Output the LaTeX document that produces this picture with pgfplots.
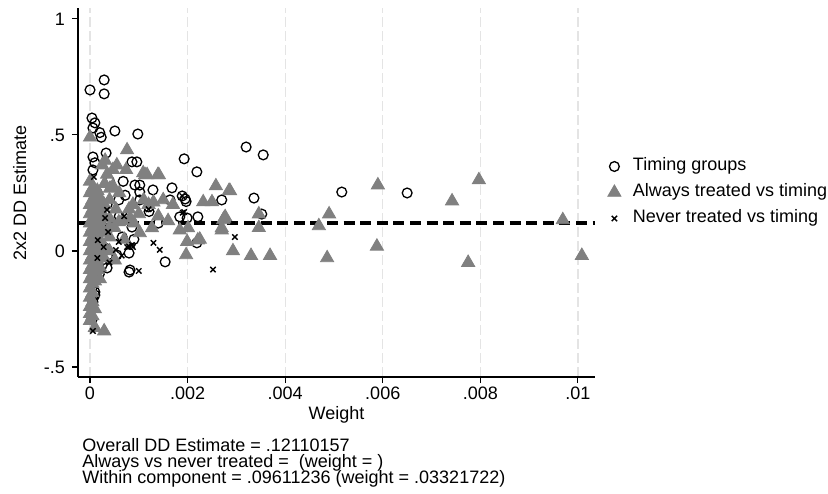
\documentclass[border=0pt]{standalone}
\usepackage{fontspec}
\setmainfont{Liberation Sans}
\usepackage{pgfplots}
\pgfplotsset{compat=1.18}
\usetikzlibrary{calc}
\definecolor{stGray}{RGB}{128,128,128}
\definecolor{gridGray}{RGB}{228,228,228}

\pgfplotsset{
  mk/.style={only marks,
    legend image code/.code={\draw[mark repeat=2,mark phase=2,##1] plot coordinates {(0pt,0pt) (5pt,0pt) (10pt,0pt)};}}
}

\begin{document}
\begin{tikzpicture}
\begin{axis}[
  name=ax, at={(0,0)}, anchor=south west,
  width=258.5pt, height=184.5pt, scale only axis,
  xmin=-0.000246, xmax=0.01035,
  ymin=-0.543, ymax=1.047,
  axis lines*=left,
  axis line style={black, line width=0.55pt},
  xtick={0,0.002,0.004,0.006,0.008,0.01},
  xticklabels={0,.002,.004,.006,.008,.01},
  ytick={-0.5,0,0.5,1},
  yticklabels={-.5,0,.5,1},
  scaled x ticks=false,
  tick align=outside,
  major tick length=3pt,
  tick style={black, line width=0.55pt},
  xmajorgrids,
  major grid style={gridGray, dash pattern=on 5pt off 2pt, line width=0.6pt},
  tick label style={font=\fontsize{9}{10}\selectfont},
  xticklabel style={yshift=1.5pt},
  label style={font=\fontsize{9}{10}\selectfont},
  xlabel={Weight},
  xlabel style={yshift=3.5pt},
  ylabel={2x2 DD Estimate},
  ylabel style={yshift=2pt},
  clip=false,
  legend style={at={(1.024,0.60)}, anchor=north west, draw=none, fill=none,
    font=\fontsize{9}{10}\selectfont, row sep=2.5pt, column sep=5pt, inner sep=0pt,
    nodes={inner sep=1pt, text height=6.5pt, text depth=2pt},
    cells={anchor=west}},
]

% overall estimate
\addplot[forget plot, black, line width=1.7pt, dash pattern=on 5.5pt off 2.8pt]
  coordinates {(-0.000246,0.1211) (0.01035,0.1211)};

% timing groups
\addplot[mk, mark=o, mark size=2.45pt, black, mark options={line width=0.65pt}] coordinates {
(0,0.694) (0.00029,0.737) (0.00029,0.677) (0.00004,0.573) (0.0001,0.552)
(0.00006,0.53) (0.0002,0.51) (0.00023,0.49) (0.00051,0.517) (0.00098,0.504)
(0.00006,0.405) (0.0001,0.38) (0.00033,0.422) (0.00086,0.384) (0.00096,0.384)
(0.00193,0.397) (0.00219,0.341) (0.00006,0.349) (0.00068,0.30) (0.00092,0.284)
(0.00102,0.284) (0.00168,0.272) (0.00129,0.263) (0.00164,0.22) (0.00189,0.237)
(0.00195,0.224) (0.00197,0.213) (0.0027,0.22) (0.00102,0.22) (0.0032,0.448)
(0.00355,0.414) (0.00336,0.228) (0.00352,0.159) (0.00516,0.254) (0.0065,0.25)
(0.00184,0.147) (0.00199,0.142) (0.00221,0.147) (0.00219,0.035) (0.00154,-0.047)
(0.00082,-0.082) (0.00066,0.06) (0.00086,0.103) (0.00055,-0.017) (0.0008,-0.009)
(0.00031,0.013) (0.00037,-0.017) (0.00025,-0.06) (0.00035,-0.073) (0.0008,-0.091)
(0.00004,-0.159) (0.0001,-0.177) (0.00006,-0.207) (0.00016,-0.082) (0.00019,-0.1)
(0.00006,-0.22) (0.0001,-0.19) (0.00004,-0.297) (0.00059,0.22) (0.00102,0.254)
(0.00035,0.2) (0.0004,0.3) (0.00015,0.25) (0.0012,0.19) (0.0006,0.15)
(0.0014,0.12) (0.00121,0.17) (0.00072,0.24) (0.0004,0.1) (0.0009,0.05)
};
\addlegendentry{Timing groups}

% always treated vs timing
\addplot[mk, mark=triangle*, mark size=3.8pt, stGray, mark options={draw=stGray, fill=stGray}] coordinates {
(0,0.49) (0,0.30) (0,0.25) (0,0.20) (0,0.16) (0,0.12) (0,0.08) (0,0.04)
(0,0.0) (0,-0.04) (0,-0.08) (0,-0.12) (0,-0.16) (0,-0.20) (0,-0.24) (0,-0.27) (0,-0.30)
(0.00005,0.27) (0.00005,0.22) (0.00005,0.18) (0.00005,0.14) (0.00005,0.10)
(0.00005,0.06) (0.00005,0.02) (0.00005,-0.02) (0.00005,-0.06) (0.00005,-0.10) (0.00005,-0.14)
(0.00005,-0.18) (0.00005,-0.22) (0.00005,-0.28)
(0.0001,0.24) (0.0001,0.19) (0.0001,0.15) (0.0001,0.11) (0.0001,0.07)
(0.0001,0.03) (0.0001,-0.01) (0.0001,-0.05) (0.0001,-0.09) (0.0001,-0.13) (0.0001,-0.25) (0.0001,-0.33)
(0.00015,0.26) (0.00015,0.21) (0.00015,0.16) (0.00015,0.12) (0.00015,0.08) (0.00015,0.04)
(0.00015,0.0) (0.00015,-0.04) (0.00015,-0.08)
(0.0002,0.23) (0.0002,0.18) (0.0002,0.13) (0.0002,0.09) (0.0002,0.05) (0.0002,0.01)
(0.0002,-0.03) (0.0002,-0.07) (0.0002,-0.12)
(0.00029,-0.345) (0.00029,0.2) (0.00029,0.15) (0.00029,0.08) (0.00029,0.02) (0.00029,-0.03)
(0.0004,0.22) (0.0004,0.14) (0.0004,0.06) (0.0004,0.1)
(0.00076,0.435) (0.00031,0.39) (0.00055,0.37) (0.00113,0.328) (0.00141,0.328)
(0.00109,0.336) (0.00139,0.328) (0.00117,0.328) (0.00074,0.35) (0.00258,0.28)
(0.00232,0.211) (0.0025,0.211) (0.00277,0.147) (0.00127,0.099) (0.00184,0.09)
(0.00201,0.099) (0.00199,0.04) (0.00221,0.047) (0.00225,0.05) (0.00197,-0.017)
(0.00273,0.134) (0.0027,0.099) (0.00287,0.259) (0.00047,0.28) (0.0003,0.29)
(0.00088,0.2) (0.0006,0.25) (0.0008,0.18) (0.0012,0.2) (0.0014,0.15)
(0.0016,0.13) (0.0009,0.12) (0.00066,0.13) (0.0005,0.1) (0.0007,0.05)
(0.0004,0.0) (0.001,0.16) (0.00082,0.142) (0.00059,0.125) (0.00102,0.078)
(0.0013,0.21) (0.0015,0.22) (0.0017,0.2) (0.0011,0.22) (0.00053,0.18)
(0.00041,0.27) (0.00035,0.33) (0.00047,0.35) (0.00025,0.37) (0.00051,-0.04) (0.00025,-0.02)
(0.00285,0.26) (0.00275,0.14) (0.0027,0.09) (0.00346,0.159) (0.00346,0.10)
(0.00293,0.0) (0.0033,-0.02) (0.00369,-0.02) (0.0049,0.159) (0.00469,0.108)
(0.00486,-0.03) (0.0059,0.284) (0.00588,0.02) (0.00797,0.306) (0.00742,0.215)
(0.00969,0.134) (0.00775,-0.05) (0.01008,-0.02)
};
\addlegendentry{Always treated vs timing}

% never treated vs timing
\addplot[mk, mark=x, mark size=1.9pt, black, mark options={line width=0.7pt}] coordinates {
(0.00006,-0.345) (0.00016,0.047) (0.00037,0.082) (0.00059,0.039) (0.00053,0.004)
(0.00028,0.017) (0.00076,0.017) (0.00086,0.026) (0.00035,0.177) (0.00031,0.142)
(0.001,-0.086) (0.0013,0.035) (0.00143,0.005) (0.0019,0.165) (0.00297,0.06)
(0.00252,-0.08) (0.00189,0.237) (0.00193,0.168) (0.00008,0.319) (0.0008,0.02)
(0.00088,0.017) (0.0012,0.18) (0.0004,-0.05) (0.00015,-0.03) (0.0007,0.15)
(0.00065,-0.02)
};
\addlegendentry{Never treated vs timing}

\end{axis}

\begin{scope}[font=\fontsize{9}{10}\selectfont]
\node[anchor=base west, inner sep=0pt] at ($(ax.south west)+(2pt,-37.2pt)$) {Overall DD Estimate = .12110157};
\node[anchor=base west, inner sep=0pt] at ($(ax.south west)+(2pt,-45.2pt)$) {Always vs never treated =\ \ (weight = )};
\node[anchor=base west, inner sep=0pt] at ($(ax.south west)+(2pt,-53.2pt)$) {Within component = .09611236 (weight = .03321722)};
\end{scope}

\pgfresetboundingbox
\path[use as bounding box] ($(ax.south west)+(-39pt,-58pt)$) rectangle ($(ax.south west)+(375pt,188.5pt)$);
\end{tikzpicture}
\end{document}
